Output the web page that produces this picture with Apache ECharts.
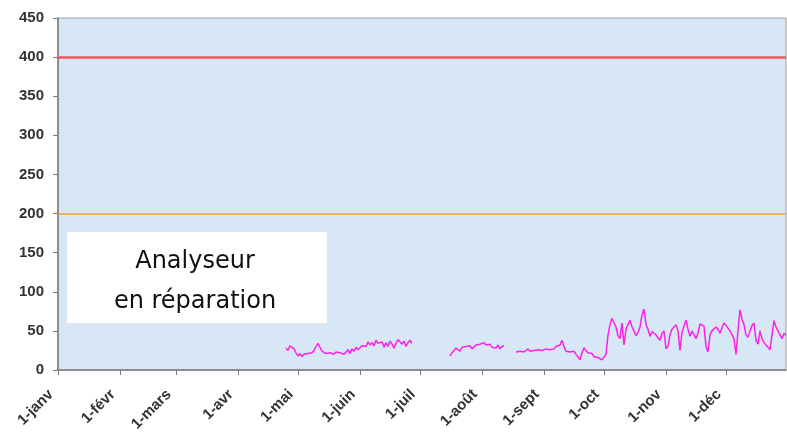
<!DOCTYPE html>
<html>
<head>
<meta charset="utf-8">
<script src="https://cdn.jsdelivr.net/npm/echarts@6/dist/echarts.min.js"></script>
<style>
  html, body { margin: 0; padding: 0; background: #fff; }
  #chart { width: 787px; height: 432px; }
</style>
</head>
<body>
<div id="chart"></div>
<script>
const months = ['janv', 'févr', 'mars', 'avr', 'mai', 'juin', 'juil', 'août', 'sept', 'oct', 'nov', 'déc'];
const monthDays = [31, 28, 31, 30, 31, 30, 31, 31, 30, 31, 30, 31];
const yTicks = [0, 50, 100, 150, 200, 250, 300, 350, 400, 450];
const limitHigh = 400;
const limitLow = 200;

// measured periods (start = day of year, 0 = 1-janv)
const seg1Start = 114;
const seg1 = [28, 25, 31, 33, 27, 22, 18, 21, 17, 20, 22, 21, 23, 22, 25, 30, 34, 29,
  24, 22, 21, 20, 22, 21, 20, 23, 21, 22, 24, 20, 23, 26, 21, 27, 24, 29, 26, 28, 31,
  33, 30, 36, 32, 35, 31, 38, 34, 32, 36, 29, 35, 30, 37, 33, 28, 34, 39,
  40, 33, 37, 30, 35, 38, 34];
const seg2Start = 196;
const seg2 = [18, 22, 25, 28, 26, 24, 29, 27, 30, 28, 31, 27, 29, 32, 30, 33, 31, 35,
  32, 30, 33, 29, 31, 28, 32, 27, 30, 31];
const seg3Start = 229;
const seg3 = [23, 25, 24, 26, 23, 25, 27, 24, 26, 25, 23, 26, 28, 25, 24, 27, 25, 26,
  28, 27, 30, 28, 32, 38, 30, 24, 22, 23, 21, 24, 20, 18, 13, 22, 28, 25, 22, 20, 21,
  17, 18, 16, 14, 13,
  13, 20, 45, 58, 66, 65, 55, 44, 40, 60, 32, 52, 58, 64, 55, 50, 44, 48, 55, 70, 78,
  58, 52, 43, 49, 50, 45, 41, 38, 47, 50, 27, 30, 45, 52, 55, 58, 50, 25, 48, 56, 64,
  52, 43, 50, 49, 40, 47, 59, 60, 56, 30, 23, 45, 50, 52, 55, 52, 47, 54, 60, 57, 55,
  50, 48, 40, 20, 50, 77, 65, 58, 45, 42, 50, 57, 60, 38, 33, 50, 40, 35, 32, 29, 26,
  45, 63, 55, 50, 52, 40, 47, 44];

// day categories
const days = [];
months.forEach((m, i) => {
  for (let d = 1; d <= monthDays[i]; d++) days.push(d + '-' + m);
});

const values = days.map(() => null);
[[seg1Start, seg1], [seg2Start, seg2], [seg3Start, seg3]].forEach(([s, arr]) => {
  arr.forEach((v, i) => { values[s + i] = v; });
});

const isMonthStart = (idx) => days[idx].startsWith('1-');

const chart = echarts.init(document.getElementById('chart'));
chart.setOption({
  animation: false,
  grid: {
    left: 58, top: 18, right: 1, bottom: 62,
    outerBoundsMode: 'none',
    containLabel: false,
    show: true,
    backgroundColor: '#d7e7f6',
    borderColor: '#a0a0a0',
    borderWidth: 1
  },
  xAxis: {
    type: 'category',
    data: days,
    boundaryGap: false,
    axisLine: { lineStyle: { color: '#7a7a7a', width: 1.5 } },
    axisTick: { interval: (i) => isMonthStart(i), length: 5, lineStyle: { color: '#7a7a7a' } },
    axisLabel: {
      interval: (i) => isMonthStart(i),
      rotate: 45,
      margin: 15,
      padding: [0, 10, 0, 0],
      color: '#333',
      fontFamily: 'Arial, Liberation Sans',
      fontWeight: 'bold',
      fontSize: 15
    },
    splitLine: { show: false }
  },
  yAxis: {
    type: 'value',
    min: yTicks[0],
    max: yTicks[yTicks.length - 1],
    interval: 50,
    axisLine: { show: true, lineStyle: { color: '#7a7a7a', width: 1.5 } },
    axisTick: { show: true, length: 5, lineStyle: { color: '#7a7a7a' } },
    axisLabel: {
      margin: 14,
      color: '#333',
      fontFamily: 'Arial, Liberation Sans',
      fontWeight: 'bold',
      fontSize: 15
    },
    splitLine: { show: false }
  },
  series: [{
    type: 'line',
    data: values,
    symbol: 'none',
    connectNulls: false,
    lineStyle: { color: '#ff20e8', width: 1.5 },
    markLine: {
      silent: true,
      symbol: 'none',
      label: { show: false },
      data: [
        { yAxis: limitHigh, lineStyle: { color: '#f0555a', width: 2.5, type: 'solid' } },
        { yAxis: limitLow, lineStyle: { color: '#f0a030', width: 1.5, type: 'solid' } }
      ]
    }
  }],
  graphic: [{
    type: 'group',
    left: 67,
    top: 232,
    children: [
      { type: 'rect', shape: { x: 0, y: 0, width: 260, height: 91 }, style: { fill: '#ffffff' } },
      {
        type: 'text', x: 128, y: 30,
        style: { text: 'Analyseur', fill: '#111', font: '24px "DejaVu Sans"', align: 'center', verticalAlign: 'middle' }
      },
      {
        type: 'text', x: 128, y: 70,
        style: { text: 'en réparation', fill: '#111', font: '24px "DejaVu Sans"', align: 'center', verticalAlign: 'middle' }
      }
    ]
  }]
});
</script>
</body>
</html>
